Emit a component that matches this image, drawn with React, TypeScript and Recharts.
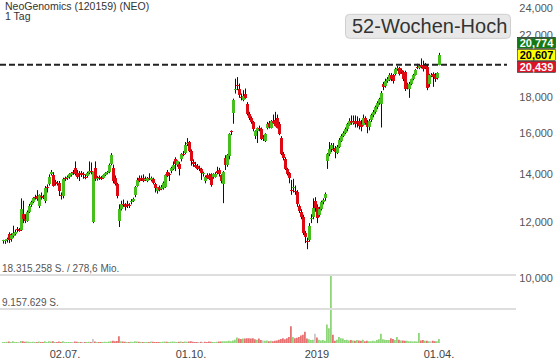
import { ComposedChart, Bar, Cell, XAxis, YAxis, ReferenceLine } from "recharts";

const FONT = "Arial, 'Liberation Sans', sans-serif";
const GREEN = "#46be1e";
const RED = "#dd0a14";

const title = "NeoGenomics (120159) (NEO)";
const period = "1 Tag";

// daily candles, 17.05.2018 .. 01.04.2019
const opens = [
  11.26, 11.28, 11.30, 11.52, 11.36, 11.45, 11.55, 11.72, 11.70, 11.70,
  12.30, 12.12, 12.05, 12.40, 12.68, 12.80, 13.00, 13.03, 12.62, 13.05,
  13.00, 12.82, 13.42, 13.55, 14.02, 13.95, 13.65, 13.62, 13.62, 13.10,
  13.05, 13.82, 13.82, 13.88, 13.96, 14.10, 14.28, 14.08, 14.08, 14.05,
  14.00, 13.90, 13.93, 14.06, 14.15, 11.98, 14.28, 13.80, 13.86, 13.85,
  13.85, 13.98, 14.05, 14.12, 14.50, 14.30, 13.85, 13.55, 12.05, 12.50,
  12.72, 12.66, 12.70, 12.68, 12.78, 12.86, 13.10, 13.50, 13.82, 13.85,
  13.82, 13.78, 13.72, 13.82, 13.75, 13.78, 13.55, 13.28, 13.42, 13.35,
  13.38, 13.45, 14.10, 14.00, 14.15, 14.25, 14.70, 14.45, 14.50, 14.70,
  14.97, 15.00, 15.45, 15.55, 15.12, 14.55, 14.45, 14.38, 14.28, 14.24,
  14.00, 13.72, 13.98, 13.95, 14.00, 13.86, 13.90, 14.15, 14.20, 13.95,
  13.55, 14.75, 14.45, 14.85, 16.10, 17.10, 18.40, 18.70, 18.45, 17.97,
  17.85, 18.15, 17.60, 17.05, 16.80, 16.60, 15.88, 16.10, 16.25, 16.20,
  15.80, 15.62, 16.30, 16.55, 16.30, 16.65, 16.70, 16.80, 16.50, 15.75,
  14.95, 14.70, 14.25, 14.05, 13.32, 13.40, 13.28, 13.20, 12.62, 12.40,
  12.20, 11.56, 11.28, 11.33, 12.13, 12.20, 12.85, 12.60, 12.28, 12.52,
  12.80, 12.95, 14.60, 14.95, 15.20, 15.22, 15.25, 15.00, 15.30, 15.60,
  15.85, 16.00, 16.20, 16.45, 16.65, 16.55, 16.65, 16.60, 16.65, 16.50,
  16.45, 16.80, 16.60, 16.35, 16.70, 16.95, 17.15, 17.40, 17.65, 17.60,
  18.80, 18.65, 18.95, 19.00, 19.30, 19.30, 19.40, 19.70, 19.75, 19.65,
  19.50, 19.50, 18.75, 18.45, 18.80, 19.05, 19.35, 19.82, 19.80, 20.00,
  20.00, 20.00, 19.85, 18.80, 19.30, 19.40, 19.35, 19.15, 20.00,
];

const highs = [
  11.32, 11.33, 11.40, 11.60, 11.56, 11.85, 11.70, 11.80, 11.76, 12.95,
  12.85, 12.30, 12.45, 12.72, 12.85, 13.00, 13.10, 13.30, 13.12, 13.20,
  13.10, 13.48, 13.55, 14.00, 14.20, 14.10, 13.75, 13.70, 13.70, 13.20,
  13.85, 13.90, 13.95, 14.05, 14.10, 14.20, 14.60, 14.20, 14.15, 14.15,
  14.10, 14.00, 14.12, 14.60, 14.55, 14.12, 14.60, 13.92, 13.95, 13.92,
  14.00, 14.10, 14.15, 14.50, 15.00, 14.45, 13.95, 13.62, 12.70, 12.85,
  12.90, 12.75, 12.85, 12.75, 12.92, 12.98, 13.48, 13.85, 13.95, 13.95,
  14.00, 13.90, 13.88, 14.05, 13.90, 13.85, 13.62, 13.42, 13.50, 13.52,
  13.68, 14.00, 14.20, 14.08, 14.35, 14.60, 14.80, 14.65, 14.58, 15.00,
  15.10, 15.55, 15.75, 15.60, 15.18, 14.70, 14.58, 14.48, 14.40, 14.30,
  14.12, 13.95, 14.05, 14.05, 14.05, 14.05, 14.10, 14.35, 14.30, 14.00,
  14.15, 14.90, 14.95, 16.00, 16.15, 17.90, 19.10, 19.20, 18.80, 18.20,
  18.40, 18.50, 17.70, 17.15, 16.90, 16.65, 16.15, 16.30, 16.40, 16.30,
  15.90, 16.00, 16.60, 16.65, 16.70, 17.00, 17.15, 17.00, 16.60, 15.85,
  15.05, 14.80, 14.30, 14.10, 13.75, 13.80, 13.50, 13.30, 12.70, 12.50,
  12.28, 11.65, 11.40, 11.95, 12.30, 12.95, 13.00, 12.70, 12.60, 12.85,
  12.95, 13.20, 15.00, 15.55, 15.50, 15.50, 15.35, 15.40, 15.75, 15.95,
  16.10, 16.30, 16.55, 16.80, 16.95, 16.95, 16.95, 16.90, 16.80, 16.70,
  17.00, 16.90, 16.70, 16.75, 17.05, 17.25, 17.50, 17.75, 17.95, 18.35,
  18.90, 19.10, 19.20, 19.45, 19.45, 19.40, 19.80, 19.90, 19.85, 19.75,
  19.60, 19.60, 18.85, 18.90, 19.10, 19.40, 19.70, 20.05, 20.00, 20.40,
  20.25, 20.10, 20.00, 19.40, 19.45, 19.50, 19.45, 19.50, 20.77,
];

const lows = [
  11.18, 11.17, 11.22, 11.20, 11.25, 11.40, 11.48, 11.60, 11.62, 11.65,
  11.95, 11.95, 12.00, 12.35, 12.60, 12.75, 12.90, 12.85, 12.55, 12.90,
  12.92, 12.75, 13.20, 13.50, 13.95, 13.45, 13.50, 13.50, 13.05, 12.90,
  12.95, 13.70, 13.75, 13.80, 13.90, 13.98, 13.95, 13.80, 13.70, 13.88,
  13.80, 13.78, 13.85, 14.00, 14.00, 11.95, 13.70, 13.72, 13.75, 13.75,
  13.80, 13.92, 14.00, 14.05, 14.42, 13.60, 13.50, 12.95, 11.80, 12.45,
  12.60, 12.45, 12.55, 12.55, 12.70, 12.80, 13.00, 13.45, 13.65, 13.70,
  13.65, 13.70, 13.65, 13.75, 13.68, 13.55, 13.20, 13.15, 13.25, 13.30,
  13.32, 13.40, 13.88, 13.70, 14.05, 14.20, 14.15, 14.35, 13.95, 14.60,
  14.85, 14.95, 15.35, 15.05, 14.40, 14.35, 14.30, 14.20, 14.15, 13.75,
  13.90, 13.60, 13.80, 13.75, 13.45, 13.80, 13.85, 14.00, 13.90, 13.60,
  12.75, 14.20, 14.35, 14.70, 15.90, 16.50, 18.20, 18.40, 17.95, 17.80,
  17.75, 17.90, 16.95, 16.70, 16.50, 16.10, 15.70, 15.50, 16.10, 15.65,
  15.60, 15.55, 16.20, 16.25, 16.25, 16.50, 16.35, 16.25, 15.90, 14.90,
  14.65, 14.20, 13.95, 13.60, 13.10, 13.20, 13.10, 12.60, 12.35, 12.10,
  11.50, 11.20, 10.98, 11.25, 11.95, 12.10, 12.40, 11.95, 12.20, 12.45,
  12.70, 12.85, 14.25, 14.85, 15.05, 15.10, 14.75, 14.95, 15.25, 15.55,
  15.80, 15.95, 16.10, 16.40, 16.45, 16.45, 16.30, 16.30, 16.20, 16.10,
  16.40, 16.45, 16.00, 16.15, 16.60, 16.85, 17.05, 17.30, 17.55, 16.30,
  18.40, 18.55, 18.85, 18.95, 18.95, 18.80, 19.30, 19.60, 19.30, 19.40,
  18.95, 18.35, 18.45, 17.95, 18.70, 19.00, 19.30, 19.70, 19.70, 19.75,
  19.55, 19.70, 18.40, 18.60, 19.20, 18.60, 18.90, 19.05, 19.95,
];

const closes = [
  11.30, 11.31, 11.36, 11.30, 11.50, 11.58, 11.62, 11.68, 11.68, 12.50,
  12.12, 12.05, 12.40, 12.65, 12.78, 12.95, 12.97, 12.94, 13.08, 13.00,
  12.98, 13.38, 13.40, 13.88, 14.10, 13.50, 13.60, 13.58, 13.25, 13.05,
  13.78, 13.80, 13.88, 14.00, 14.05, 14.05, 14.00, 13.90, 14.05, 13.95,
  13.95, 13.87, 14.05, 14.15, 14.10, 14.10, 13.78, 13.85, 13.84, 13.82,
  13.95, 14.05, 14.12, 14.45, 14.90, 13.70, 13.55, 13.05, 12.50, 12.70,
  12.68, 12.60, 12.68, 12.62, 12.86, 12.92, 13.42, 13.75, 13.70, 13.78,
  13.72, 13.80, 13.82, 13.80, 13.83, 13.60, 13.40, 13.38, 13.30, 13.45,
  13.62, 13.95, 13.92, 13.95, 14.30, 14.45, 14.50, 14.60, 14.25, 14.95,
  14.93, 15.40, 15.50, 15.10, 14.62, 14.50, 14.35, 14.25, 14.25, 14.04,
  14.04, 13.88, 13.85, 13.80, 13.52, 14.00, 14.03, 14.05, 14.00, 13.72,
  14.10, 14.45, 14.90, 15.95, 16.05, 17.85, 18.50, 18.68, 18.10, 17.94,
  18.05, 17.95, 17.05, 16.80, 16.62, 16.20, 16.12, 16.25, 16.20, 15.70,
  15.70, 15.95, 16.50, 16.35, 16.65, 16.55, 16.40, 16.30, 15.95, 14.95,
  14.75, 14.25, 14.00, 13.85, 13.28, 13.44, 13.25, 12.70, 12.42, 12.20,
  11.58, 11.42, 11.25, 11.85, 12.15, 12.55, 12.55, 12.15, 12.50, 12.78,
  12.90, 13.15, 14.95, 15.20, 15.40, 15.18, 15.05, 15.30, 15.65, 15.85,
  16.00, 16.20, 16.50, 16.65, 16.55, 16.60, 16.50, 16.55, 16.40, 16.35,
  16.80, 16.55, 16.35, 16.65, 16.95, 17.15, 17.40, 17.65, 17.90, 18.25,
  18.60, 18.95, 19.10, 19.30, 19.05, 18.95, 19.70, 19.80, 19.40, 19.50,
  19.05, 18.50, 18.55, 18.80, 19.05, 19.35, 19.65, 19.78, 19.90, 19.85,
  19.70, 19.80, 18.55, 19.35, 19.35, 19.20, 19.10, 19.45, 20.61,
];

// volume in millions of shares
const volumes = [
  0.30, 0.25, 0.35, 0.40, 0.30, 0.45, 0.30, 0.25, 0.30, 0.55,
  0.50, 0.35, 0.40, 0.35, 0.30, 0.35, 0.25, 0.30, 0.40, 0.30,
  0.25, 0.45, 0.30, 0.50, 0.40, 0.45, 0.30, 0.25, 0.40, 0.30,
  0.45, 0.30, 0.25, 0.30, 0.30, 0.25, 0.40, 0.35, 0.30, 0.25,
  0.30, 0.25, 0.30, 0.35, 0.30, 1.10, 0.40, 0.30, 0.25, 0.30,
  0.30, 0.35, 0.30, 0.40, 0.45, 0.60, 0.50, 0.55, 1.80, 0.50,
  0.40, 0.35, 0.30, 0.30, 0.35, 0.30, 0.45, 0.40, 0.35, 0.30,
  0.30, 0.25, 0.30, 0.30, 0.40, 0.35, 0.30, 0.30, 0.25, 0.30,
  0.35, 0.40, 0.35, 0.30, 0.35, 0.40, 0.35, 0.30, 0.35, 0.40,
  0.30, 0.40, 0.35, 0.40, 0.45, 0.35, 0.30, 0.30, 0.25, 0.35,
  0.30, 0.35, 0.30, 0.40, 0.35, 0.30, 0.30, 0.35, 0.40, 0.40,
  0.50, 0.50, 0.45, 0.60, 0.50, 0.70, 0.90, 1.50, 1.20, 1.10,
  1.20, 1.20, 1.30, 1.30, 1.20, 1.25, 1.00, 0.90, 1.20, 0.80,
  0.70, 0.60, 0.70, 0.50, 0.60, 0.50, 0.60, 0.70, 0.90, 1.10,
  1.30, 1.00, 1.30, 1.60, 4.50, 1.60, 1.30, 1.40, 1.60, 2.00,
  2.20, 3.00, 1.20, 1.00, 0.80, 0.90, 2.50, 1.50, 0.90, 0.70,
  0.80, 0.60, 5.00, 4.00, 18.3, 2.20, 0.60, 0.90, 1.60, 1.30,
  1.20, 0.80, 0.90, 0.70, 0.80, 0.70, 0.60, 0.80, 0.70, 0.60,
  0.90, 0.50, 0.60, 0.50, 0.50, 0.60, 0.50, 0.80, 1.00, 2.50,
  1.00, 0.90, 0.80, 0.80, 1.30, 1.10, 0.80, 1.60, 0.90, 0.70,
  0.70, 0.60, 0.60, 0.50, 0.50, 0.40, 0.50, 0.40, 2.70, 0.70,
  0.80, 0.60, 0.60, 0.50, 0.50, 0.60, 0.50, 0.50, 1.10,
];

const tickDays = [31, 94, 157, 218];
const tickLabels = ["02.07.", "01.10.", "2019", "01.04."];
const priceTicks = [10, 12, 14, 16, 18, 22, 24];

const high52 = 19.98;
const quote = { high: 20.774, last: 20.607, low: 20.439 };
const volLines = [18.315258, 9.157629];
const volLineLabels = ["18.315.258 S. / 278,6 Mio.", "9.157.629 S."];

const rows = closes.map((c, i) => ({
  i,
  o: opens[i],
  h: highs[i],
  l: lows[i],
  c,
  v: volumes[i],
  range: [lows[i], highs[i]],
}));

const fmtPrice = (v: number) => v.toFixed(3).replace(".", ",");

function volColor(i: number) {
  const prev = i === 0 ? opens[0] : closes[i - 1];
  if (closes[i] > prev) return "#8fd67a";
  if (closes[i] < prev) return "#e57373";
  return "#c8c8c8";
}

function Candle(props: any) {
  const { x, y, width, height, payload } = props;
  if (x == null || y == null || !payload) return null;
  const top = Math.min(y, y + height);
  const bottom = Math.max(y, y + height);
  const lnH = Math.log(payload.h);
  const span = lnH - Math.log(payload.l) || 1;
  const at = (v: number) => top + ((bottom - top) * (lnH - Math.log(v))) / span;
  const cx = Math.round(x + width / 2);
  const up = payload.c >= payload.o;
  const bTop = at(Math.max(payload.o, payload.c));
  const bBot = at(Math.min(payload.o, payload.c));
  return (
    <g>
      <line x1={cx + 0.5} x2={cx + 0.5} y1={top} y2={bottom} stroke="#111" strokeWidth={1} />
      <rect
        x={cx - 1}
        y={bTop}
        width={3}
        height={Math.max(1, bBot - bTop)}
        fill={up ? GREEN : RED}
        shapeRendering="crispEdges"
      />
    </g>
  );
}

const PriceTick = (props: any) => (
  <text x={553} y={props.y + 4} textAnchor="end" fontSize={11} fill="#555" fontFamily={FONT}>
    {fmtPrice(props.payload.value)}
  </text>
);

const HighLabel = (props: any) => {
  const y = props.viewBox.y;
  return (
    <g>
      <rect x={345.5} y={y - 50.5} width={165} height={24} rx={4} fill="#e8e8e8" stroke="#cfcfcf" />
      <text x={352} y={y - 31.5} fontSize={20} fill="#333" fontFamily={FONT}>
        52-Wochen-Hoch
      </text>
    </g>
  );
};

const QuoteLabel = (props: any) => {
  const y = props.viewBox.y;
  const boxes = [
    { v: quote.high, dy: -18, fill: "#137a13", color: "#fff" },
    { v: quote.last, dy: -6, fill: "#ffff00", color: "#000" },
    { v: quote.low, dy: 6, fill: "#dc1428", color: "#fff" },
  ];
  return (
    <g>
      {boxes.map((b) => (
        <g key={b.v}>
          <rect x={517.5} y={y + b.dy} width={38} height={11} fill={b.fill} stroke="#222" strokeWidth={0.6} />
          <text
            x={536.5}
            y={y + b.dy + 9.5}
            textAnchor="middle"
            fontSize={11}
            fontWeight="bold"
            fill={b.color}
            fontFamily={FONT}
          >
            {fmtPrice(b.v)}
          </text>
        </g>
      ))}
    </g>
  );
};

const volLabel = (text: string) => (props: any) => (
  <text x={2} y={props.viewBox.y - 3.5} fontSize={10} fill="#555" fontFamily={FONT}>
    {text}
  </text>
);

export default function App() {
  return (
    <div
      style={{
        position: "absolute",
        left: 0,
        top: 0,
        width: 560,
        height: 363,
        background: "#fff",
        fontFamily: FONT,
      }}
    >
      <ComposedChart width={560} height={363} data={rows} margin={{ top: 0, right: 0, bottom: 0, left: 0 }}>
        <XAxis
          dataKey="i"
          type="number"
          domain={[-1.5, 256.5]}
          allowDataOverflow
          ticks={tickDays}
          interval={0}
          tickFormatter={(v) => tickLabels[tickDays.indexOf(v)]}
          axisLine={false}
          tickLine={false}
          tickSize={5}
          tickMargin={2}
          height={20}
          tick={{ fontSize: 11, fill: "#444", fontFamily: FONT }}
        />
        <XAxis xAxisId="vol" dataKey="i" type="number" domain={[-1.5, 256.5]} allowDataOverflow hide />
        <YAxis
          yAxisId="price"
          orientation="right"
          scale="log"
          domain={[8.097, 24.66]}
          allowDataOverflow
          ticks={priceTicks}
          interval={0}
          width={44}
          axisLine={false}
          tickLine={false}
          tick={<PriceTick />}
        />
        <YAxis yAxisId="vol" orientation="left" domain={[0, 92.4]} allowDataOverflow hide />
        {volLines.map((v, k) => (
          <ReferenceLine
            key={v}
            yAxisId="vol"
            y={v}
            stroke="#dedede"
            strokeWidth={2}
            label={volLabel(volLineLabels[k])}
          />
        ))}
        <Bar xAxisId="vol" yAxisId="vol" dataKey="v" barSize={2} isAnimationActive={false}>
          {rows.map((r) => (
            <Cell key={r.i} fill={volColor(r.i)} />
          ))}
        </Bar>
        <Bar yAxisId="price" dataKey="range" barSize={3} shape={<Candle />} isAnimationActive={false} />
        <ReferenceLine
          yAxisId="price"
          segment={[
            { x: -1.5, y: high52 },
            { x: 252, y: high52 },
          ]}
          stroke="#222"
          strokeWidth={2}
          strokeDasharray="6 3"
          label={HighLabel}
        />
        <ReferenceLine yAxisId="price" y={quote.last} stroke="none" label={QuoteLabel} />
      </ComposedChart>
      <svg width={560} height={26} style={{ position: "absolute", left: 0, top: 0 }}>
        <text x={5} y={9.5} fontSize={10.5} fill="#333" fontFamily={FONT}>
          {title}
        </text>
        <text x={5} y={20} fontSize={10.5} fill="#333" fontFamily={FONT}>
          {period}
        </text>
      </svg>
    </div>
  );
}
